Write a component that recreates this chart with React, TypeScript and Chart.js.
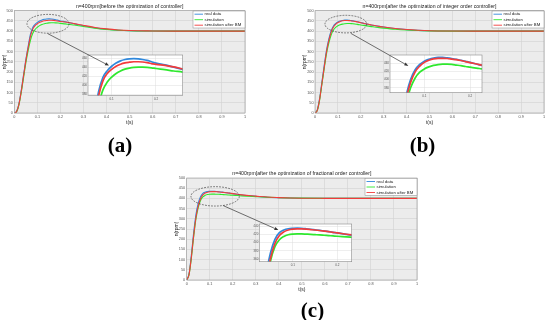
import React, { useEffect, useRef } from "react";
import { Chart, registerables } from "chart.js";
Chart.register(...registerables);

// ---------- data ----------
const T = [0, 0.01, 0.02, 0.03, 0.04, 0.05, 0.06, 0.07, 0.08, 0.09, 0.1, 0.11, 0.12, 0.13, 0.14, 0.15, 0.16, 0.17, 0.18, 0.19, 0.2, 0.22, 0.24, 0.26, 0.28, 0.3, 0.35, 0.4, 0.45, 0.5, 0.6, 0.7, 0.8, 0.9, 1.0];

const A_REAL = [0, 8, 45, 110, 185, 260, 325, 385, 418, 433, 443, 450, 455, 458, 459.5, 460, 459.5, 458, 456, 453, 450, 446, 441, 436, 431, 426.5, 416, 409, 404.5, 402, 400.5, 400, 400, 400, 400];
const A_SIM = [0, 6, 40, 100, 172, 245, 305, 355, 390, 408, 419, 427, 432.5, 436.5, 439, 440.5, 441, 441, 440.5, 439.5, 438, 435.5, 432.5, 430, 426.5, 423, 414.5, 408.5, 404.5, 402, 400.5, 400, 400, 400, 400];
const A_BM = [0, 7, 42, 105, 180, 255, 318, 375, 410, 427, 436, 443, 447.5, 450.5, 452, 453, 453, 452.5, 451, 449, 447, 445, 441.5, 437, 432.5, 428, 418, 411, 406, 403, 401, 400, 400, 400, 400];

const B_REAL = [0, 15, 70, 150, 230, 305, 360, 400, 424, 437, 445, 449.5, 452.5, 454, 454, 453, 451.5, 449.5, 447, 444.5, 442, 436, 431.5, 427.5, 424, 420.5, 413, 407.5, 404, 402, 400.5, 400, 400, 400, 400];
const B_SIM = [0, 12, 62, 138, 215, 288, 340, 380, 404, 418, 426, 431, 434.5, 436.5, 437.5, 437.5, 437, 435.5, 434, 432, 430.5, 427, 423.5, 420.5, 417.5, 415, 409.5, 405.5, 403, 401.5, 400.3, 400, 400, 400, 400];
const B_BM = [0, 13, 65, 143, 222, 297, 352, 393, 419, 433, 442, 447, 450.5, 452, 452, 451.5, 450, 448.5, 446.5, 444, 441.5, 436.5, 432, 427.5, 423.5, 420, 413, 408, 404.5, 402, 400.5, 400, 400, 400, 400];

const C_REAL = [0, 30, 120, 230, 320, 375, 408, 424, 430.5, 433.5, 434.5, 435, 434.5, 433.5, 432.3, 431, 429.7, 428.2, 426.7, 425, 423.5, 420, 417, 414.5, 412.3, 410.5, 406, 403.5, 401.8, 400.8, 400.3, 400, 400, 400, 400];
const C_SIM = [0, 25, 105, 210, 298, 355, 390, 407, 415, 419, 420.5, 421, 421, 420.5, 420, 419.3, 418.6, 417.8, 417, 416.2, 415.4, 414, 412.5, 411.2, 410, 408.8, 406, 404, 402.3, 401.2, 400.3, 400, 400, 400, 400];
const C_BM = [0, 26, 110, 215, 305, 362, 398, 417, 426, 430.5, 432.5, 433, 433, 432.5, 431.5, 430.5, 429.3, 428, 426.5, 425, 423.5, 420.3, 417.5, 415, 412.8, 411, 406.5, 404, 402, 401, 400.3, 400, 400, 400, 400];

const X_TICKS = [0, 0.1, 0.2, 0.3, 0.4, 0.5, 0.6, 0.7, 0.8, 0.9, 1];
const Y_TICKS = [0, 50, 100, 150, 200, 250, 300, 350, 400, 450, 500];
const INSET_X_TICKS = [0.1, 0.2];
const A_INSET_Y_TICKS = [380, 400, 420, 440, 460];
const B_INSET_Y_TICKS = [380, 400, 420, 440];
const C_INSET_Y_TICKS = [360, 380, 400, 420, 440];

const LEGEND_LABELS = ["real data", "simulation", "simulation after BM"];
const TITLES = [
  "n=400rpm[before the optimization of controller]",
  "n=400rpm[after the optimization of integer order controller]",
  "n=400rpm[after the optimization of fractional order controller]",
];
const CAPTIONS = ["(a)", "(b)", "(c)"];

// inset ranges [xmin, xmax, ymin, ymax]
const A_INSET_RANGE = [0.0465, 0.2603, 378, 468];
const B_INSET_RANGE = [0.025, 0.226, 368, 460];
const C_INSET_RANGE = [0.025, 0.232, 354, 445];

// ellipse [t, value, rt, rvalue] ; arrow from (main coords) to (inset coords)
const A_ELLIPSE = [0.146, 436, 0.091, 46];
const B_ELLIPSE = [0.1345, 434.5, 0.091, 43];
const C_ELLIPSE = [0.1235, 410, 0.105, 47.5];
const A_ARROW = [0.1448, 388, 0.0939, 444.4];
const B_ARROW = [0.157, 389, 0.065, 433.4];
const C_ARROW = [0.159, 364.4, 0.0677, 430.4];

// ---------- styling ----------
const BLUE = "#2f88dc";
const GREEN = "#2ee82e";
const RED = "#f23b3b";
const FONT = "'Liberation Sans', Arial, sans-serif";
Chart.defaults.font.family = FONT;

type Box = { l: number; r: number; t: number; b: number };
type Panel = {
  left: number; top: number; w: number; h: number;
  title: string; real: number[]; sim: number[]; bm: number[];
  plot: Box; inset: Box; insetRange: number[]; insetYTicks: number[];
  ellipse: number[]; arrow: number[];
  caption: string; capX: number; capY: number;
};

const PANELS: Panel[] = [
  {
    left: 0, top: 0, w: 250, h: 130, title: TITLES[0], real: A_REAL, sim: A_SIM, bm: A_BM,
    plot: { l: 14.3, r: 245, t: 10.7, b: 113 }, inset: { l: 88, r: 182.7, t: 55, b: 95.5 },
    insetRange: A_INSET_RANGE, insetYTicks: A_INSET_Y_TICKS, ellipse: A_ELLIPSE, arrow: A_ARROW,
    caption: CAPTIONS[0], capX: 120, capY: 145,
  },
  {
    left: 300, top: 0, w: 250, h: 130, title: TITLES[1], real: B_REAL, sim: B_SIM, bm: B_BM,
    plot: { l: 15, r: 244, t: 10.7, b: 113 }, inset: { l: 90, r: 182, t: 55, b: 92.7 },
    insetRange: B_INSET_RANGE, insetYTicks: B_INSET_Y_TICKS, ellipse: B_ELLIPSE, arrow: B_ARROW,
    caption: CAPTIONS[1], capX: 422.5, capY: 145,
  },
  {
    left: 172, top: 167, w: 250, h: 130, title: TITLES[2], real: C_REAL, sim: C_SIM, bm: C_BM,
    plot: { l: 14.7, r: 245, t: 11, b: 113 }, inset: { l: 87.3, r: 179.7, t: 57, b: 94.7 },
    insetRange: C_INSET_RANGE, insetYTicks: C_INSET_Y_TICKS, ellipse: C_ELLIPSE, arrow: C_ARROW,
    caption: CAPTIONS[2], capX: 312.5, capY: 310,
  },
];

function makeDatasets(p: Panel, width: number, clip: boolean) {
  const pts = (arr: number[]) => T.map((t, i) => ({ x: t, y: arr[i] }));
  const base = {
    pointRadius: 0, borderWidth: width, fill: false, cubicInterpolationMode: "monotone" as const,
    ...(clip ? { clip: 0 } : {}),
  };
  return [
    { label: LEGEND_LABELS[2], data: pts(p.bm), borderColor: RED, ...base },
    { label: LEGEND_LABELS[1], data: pts(p.sim), borderColor: GREEN, ...base },
    { label: LEGEND_LABELS[0], data: pts(p.real), borderColor: BLUE, ...base },
  ];
}

function PanelChart({ p }: { p: Panel }) {
  const mainRef = useRef<HTMLCanvasElement>(null);
  const insetRef = useRef<HTMLCanvasElement>(null);

  useEffect(() => {
    const titleFont = 5.2;
    const titlePadBottom = 1.5;
    const titlePadTop = Math.max(0, p.plot.t - titleFont * 1.2 - titlePadBottom);

    const mainPlugin = {
      id: "mainDeco",
      beforeDraw(chart: any) {
        const { ctx, chartArea: a } = chart;
        ctx.save();
        ctx.fillStyle = "#ececec";
        ctx.fillRect(a.left, a.top, a.right - a.left, a.bottom - a.top);
        ctx.restore();
      },
      afterDraw(chart: any) {
        const { ctx, chartArea: a, scales } = chart;
        const xs = scales.x, ys = scales.y;
        ctx.save();
        // frame
        ctx.strokeStyle = "#9a9a9a";
        ctx.lineWidth = 0.6;
        ctx.strokeRect(a.left, a.top, a.right - a.left, a.bottom - a.top);
        // ellipse
        const [et, ev, ert, erv] = p.ellipse;
        const cx = xs.getPixelForValue(et), cy = ys.getPixelForValue(ev);
        const rx = Math.abs(xs.getPixelForValue(et + ert) - cx);
        const ry = Math.abs(ys.getPixelForValue(ev + erv) - cy);
        ctx.setLineDash([1.8, 1.2]);
        ctx.strokeStyle = "#444";
        ctx.lineWidth = 0.7;
        ctx.beginPath();
        ctx.ellipse(cx, cy, rx, ry, 0, 0, Math.PI * 2);
        ctx.stroke();
        ctx.setLineDash([]);
        // legend box
        const bw = 52, bh = 17;
        const x0 = a.right - bw, y0 = a.top + 0.3;
        ctx.fillStyle = "#ffffff";
        ctx.fillRect(x0, y0, bw, bh);
        ctx.strokeStyle = "#8a8a8a";
        ctx.lineWidth = 0.5;
        ctx.strokeRect(x0, y0, bw, bh);
        const cols = [BLUE, GREEN, RED];
        ctx.font = `4.3px ${FONT}`;
        ctx.textBaseline = "middle";
        LEGEND_LABELS.forEach((lab, i) => {
          const y = y0 + 3.2 + i * 5.5;
          ctx.strokeStyle = cols[i];
          ctx.lineWidth = 0.9;
          ctx.beginPath();
          ctx.moveTo(x0 + 1.5, y);
          ctx.lineTo(x0 + 10, y);
          ctx.stroke();
          ctx.fillStyle = "#222";
          ctx.fillText(lab, x0 + 11.5, y);
        });
        ctx.restore();
      },
    };

    const main = new Chart(mainRef.current!, {
      type: "line",
      data: { datasets: makeDatasets(p, 1.1, false) as any },
      options: {
        animation: false,
        responsive: false,
        maintainAspectRatio: false,
        layout: { padding: { left: 0, top: 0, right: p.w - p.plot.r, bottom: 0 } },
        plugins: {
          legend: { display: false },
          tooltip: { enabled: false },
          title: {
            display: true, text: p.title, fullSize: false, color: "#222",
            font: { size: titleFont, family: FONT, weight: "normal" },
            padding: { top: titlePadTop, bottom: titlePadBottom },
          },
        },
        scales: {
          x: {
            type: "linear", min: 0, max: 1,
            afterBuildTicks: (s: any) => { s.ticks = X_TICKS.map((v) => ({ value: v })); },
            afterFit: (s: any) => { s.height = p.h - p.plot.b; },
            ticks: { font: { size: 3.8, family: FONT }, color: "#555", padding: 2, autoSkip: false, maxRotation: 0, callback: (v: any) => String(v) },
            grid: { color: "#d2d2d2", lineWidth: 0.6, drawTicks: false },
            border: { display: false },
            title: { display: true, text: "t(s)", color: "#222", font: { size: 5, family: FONT }, padding: { top: 0, bottom: 4.5 } },
          },
          y: {
            type: "linear", min: 0, max: 500,
            afterBuildTicks: (s: any) => { s.ticks = Y_TICKS.map((v) => ({ value: v })); },
            afterFit: (s: any) => { s.width = p.plot.l; },
            ticks: { font: { size: 3.8, family: FONT }, color: "#555", padding: 1.5, autoSkip: false, callback: (v: any) => String(v) },
            grid: { color: "#d2d2d2", lineWidth: 0.6, drawTicks: false },
            border: { display: false },
            title: { display: true, text: "n(rpm)", color: "#222", font: { size: 5, family: FONT }, padding: { top: 1.5, bottom: 0 } },
          },
        },
      } as any,
      plugins: [mainPlugin],
    });

    const [ixmin, ixmax, iymin, iymax] = p.insetRange;
    const insetPlugin = {
      id: "insetDeco",
      beforeDraw(chart: any) {
        const { ctx, chartArea: a } = chart;
        ctx.save();
        ctx.fillStyle = "#ffffff";
        ctx.fillRect(a.left, a.top, a.right - a.left, a.bottom - a.top);
        ctx.restore();
      },
      afterDraw(chart: any) {
        const { ctx, chartArea: a, scales } = chart;
        ctx.save();
        ctx.strokeStyle = "#8a8a8a";
        ctx.lineWidth = 0.6;
        ctx.strokeRect(a.left, a.top, a.right - a.left, a.bottom - a.top);
        // arrow from main-chart ellipse to inset
        const [ft, fv, tt, tv] = p.arrow;
        const x1 = main.scales.x.getPixelForValue(ft), y1 = main.scales.y.getPixelForValue(fv);
        const x2 = scales.x.getPixelForValue(tt), y2 = scales.y.getPixelForValue(tv);
        const ang = Math.atan2(y2 - y1, x2 - x1);
        const hl = 4, hw = 1.6;
        ctx.strokeStyle = "#333";
        ctx.fillStyle = "#333";
        ctx.lineWidth = 0.7;
        ctx.beginPath();
        ctx.moveTo(x1, y1);
        ctx.lineTo(x2 - Math.cos(ang) * hl, y2 - Math.sin(ang) * hl);
        ctx.stroke();
        ctx.beginPath();
        ctx.moveTo(x2, y2);
        ctx.lineTo(x2 - Math.cos(ang) * hl - Math.sin(ang) * hw, y2 - Math.sin(ang) * hl + Math.cos(ang) * hw);
        ctx.lineTo(x2 - Math.cos(ang) * hl + Math.sin(ang) * hw, y2 - Math.sin(ang) * hl - Math.cos(ang) * hw);
        ctx.closePath();
        ctx.fill();
        ctx.restore();
      },
    };

    const yw = 6, xh = 6;
    const inset = new Chart(insetRef.current!, {
      type: "line",
      data: { datasets: makeDatasets(p, 1.7, true) as any },
      options: {
        animation: false,
        responsive: false,
        maintainAspectRatio: false,
        layout: {
          padding: {
            left: p.inset.l - yw, top: p.inset.t,
            right: p.w - p.inset.r, bottom: p.h - p.inset.b - xh,
          },
        },
        plugins: { legend: { display: false }, tooltip: { enabled: false }, title: { display: false } },
        scales: {
          x: {
            type: "linear", min: ixmin, max: ixmax,
            afterBuildTicks: (s: any) => { s.ticks = INSET_X_TICKS.map((v) => ({ value: v })); },
            afterFit: (s: any) => { s.height = xh; },
            ticks: { font: { size: 3, family: FONT }, color: "#555", padding: 1.5, autoSkip: false, maxRotation: 0, callback: (v: any) => String(v) },
            grid: { color: "#dddddd", lineWidth: 0.5, drawTicks: false },
            border: { display: false },
          },
          y: {
            type: "linear", min: iymin, max: iymax,
            afterBuildTicks: (s: any) => { s.ticks = p.insetYTicks.map((v) => ({ value: v })); },
            afterFit: (s: any) => { s.width = yw; },
            ticks: { font: { size: 3, family: FONT }, color: "#555", padding: 1, autoSkip: false, callback: (v: any) => String(v) },
            grid: { color: "#dddddd", lineWidth: 0.5, drawTicks: false },
            border: { display: false },
          },
        },
      } as any,
      plugins: [insetPlugin],
    });

    return () => {
      inset.destroy();
      main.destroy();
    };
  }, [p]);

  const cs: React.CSSProperties = { position: "absolute", left: 0, top: 0, width: p.w, height: p.h };
  return (
    <div style={{ position: "absolute", left: p.left, top: p.top, width: p.w, height: p.h }}>
      <canvas ref={mainRef} width={p.w} height={p.h} style={cs} />
      <canvas ref={insetRef} width={p.w} height={p.h} style={cs} />
    </div>
  );
}

export default function App() {
  return (
    <div style={{ position: "absolute", left: 0, top: 0, width: 550, height: 320, background: "#fff", overflow: "hidden" }}>
      {PANELS.map((p, i) => (
        <React.Fragment key={i}>
          <PanelChart p={p} />
          <div
            style={{
              position: "absolute", left: p.capX - 30, top: p.capY - 12, width: 60, height: 24,
              textAlign: "center", font: "bold 21px 'Liberation Serif', 'DejaVu Serif', serif",
              lineHeight: "24px", color: "#000",
            }}
          >
            {p.caption}
          </div>
        </React.Fragment>
      ))}
    </div>
  );
}
